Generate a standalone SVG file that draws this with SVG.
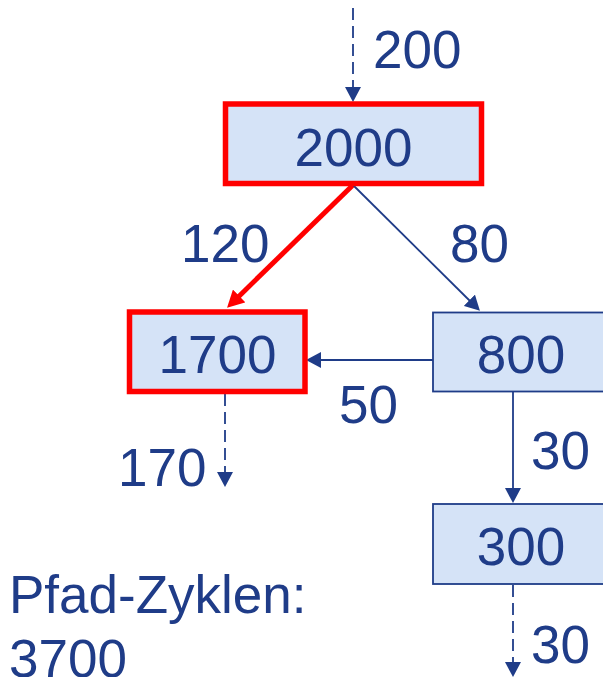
<svg xmlns="http://www.w3.org/2000/svg" width="603" height="677" viewBox="0 0 603 677">
<style>
.lbl{font-family:"Liberation Sans",Arial,sans-serif;font-size:53px;fill:#1F3C88}
.box{fill:#D5E3F7;stroke:#1F3C88;stroke-width:1.8}
.hot{fill:#D5E3F7;stroke:#FF0000;stroke-width:5.5}
.ln{stroke:#1F3C88;stroke-width:1.8;fill:none}
.dash{stroke-dasharray:12 6}
.red{stroke:#FF0000;stroke-width:5;fill:none}
</style>
<defs>
<marker id="ab" viewBox="0 0 15 16" refX="1" refY="8" markerWidth="15" markerHeight="16" markerUnits="userSpaceOnUse" orient="auto">
<path d="M0,0 L15,8 L0,16 z" fill="#1F3C88"/>
</marker>
<marker id="ar" viewBox="0 0 17 18" refX="1" refY="9" markerWidth="17" markerHeight="18" markerUnits="userSpaceOnUse" orient="auto">
<path d="M0,0 L17,9 L0,18 z" fill="#FF0000"/>
</marker>
</defs>
<g id="connectors">
<line class="ln dash" x1="353" y1="8" x2="353" y2="88" marker-end="url(#ab)"/>
<line class="red" x1="353" y1="185" x2="238.5" y2="296.7" marker-end="url(#ar)"/>
<line class="ln" x1="353" y1="185" x2="470" y2="301" marker-end="url(#ab)"/>
<line class="ln" x1="433" y1="360" x2="320" y2="360" marker-end="url(#ab)"/>
<line class="ln dash" x1="225" y1="394" x2="225" y2="473" marker-end="url(#ab)"/>
<line class="ln" x1="513" y1="392" x2="513" y2="489" marker-end="url(#ab)"/>
<line class="ln dash" x1="513" y1="585" x2="513" y2="663" marker-end="url(#ab)"/>
<text class="lbl" x="373" y="68">200</text>
<text class="lbl" x="181" y="262">120</text>
<text class="lbl" x="450" y="262">80</text>
<text class="lbl" x="339" y="423">50</text>
<text class="lbl" x="118" y="486">170</text>
<text class="lbl" x="531" y="469">30</text>
<text class="lbl" x="531" y="663">30</text>
</g>
<g id="n2000">
<rect class="hot" x="225.5" y="104" width="256" height="79.5"/>
<text class="lbl" x="353.5" y="166" text-anchor="middle">2000</text>
</g>
<g id="n1700">
<rect class="hot" x="129.5" y="312" width="175.5" height="79.5"/>
<text class="lbl" x="217.5" y="373" text-anchor="middle">1700</text>
</g>
<g id="n800">
<rect class="box" x="433" y="312.5" width="176" height="79"/>
<text class="lbl" x="521" y="373" text-anchor="middle">800</text>
</g>
<g id="n300">
<rect class="box" x="433" y="504" width="176" height="80"/>
<text class="lbl" x="521" y="565" text-anchor="middle">300</text>
</g>
<g id="summary">
<text class="lbl" x="9" y="613">Pfad-Zyklen:</text>
<text class="lbl" x="9" y="677">3700</text>
</g>
</svg>
